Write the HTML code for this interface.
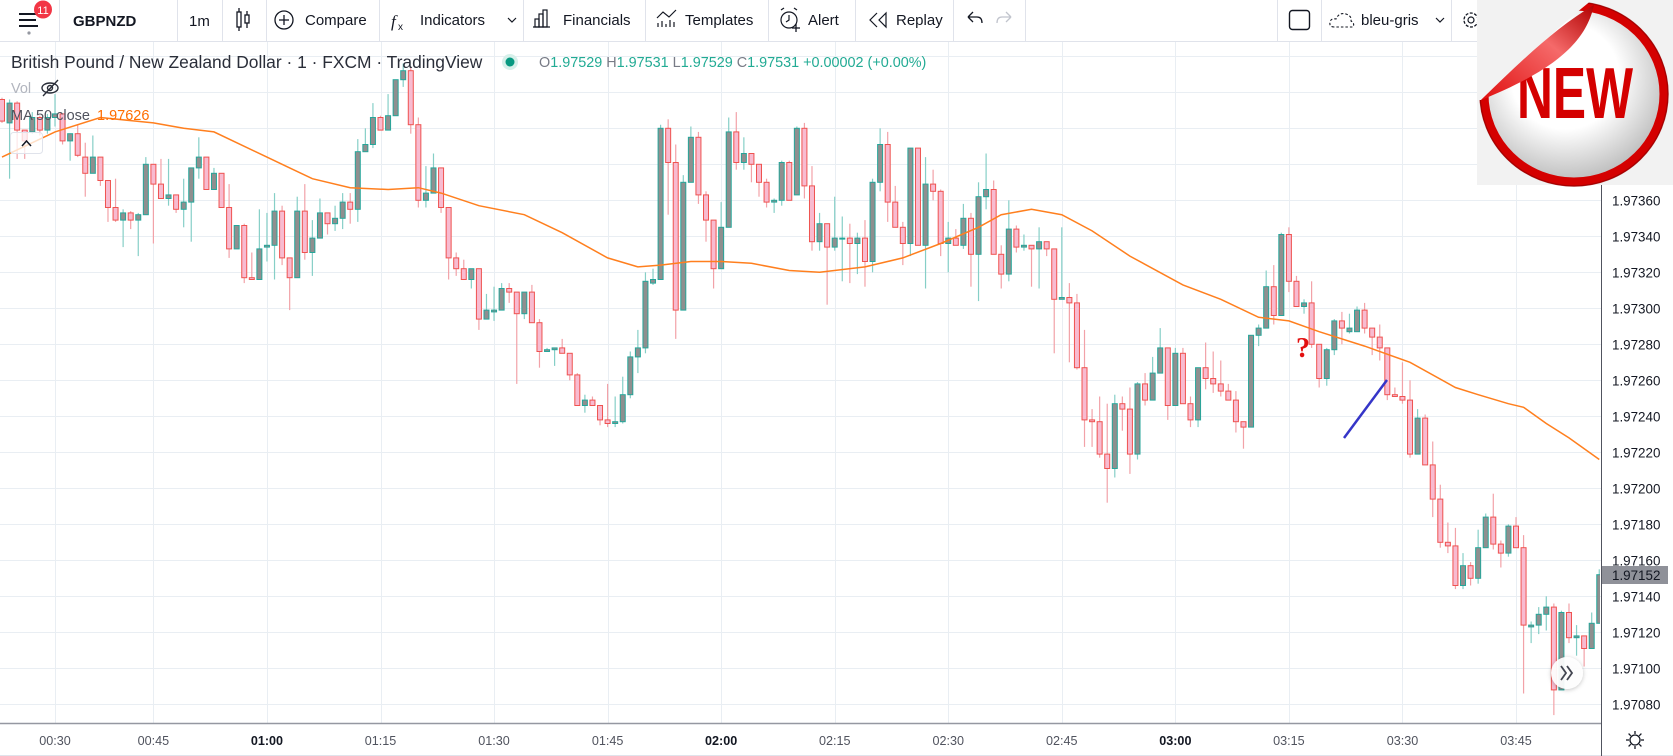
<!DOCTYPE html>
<html><head><meta charset="utf-8"><title>GBPNZD 1m chart</title>
<style>
html,body{margin:0;padding:0;background:#fff;overflow:hidden}
svg{display:block;font-family:"Liberation Sans",sans-serif}
</style></head>
<body>
<svg id="root" width="1673" height="756" viewBox="0 0 1673 756" xmlns="http://www.w3.org/2000/svg">
<defs>
<clipPath id="plotClip"><rect x="0" y="42" width="1600" height="681"/></clipPath>
<radialGradient id="stickerFill" cx="0.45" cy="0.4" r="0.6"><stop offset="0.5" stop-color="#ffffff"/><stop offset="1" stop-color="#bdbdbd"/></radialGradient>
<linearGradient id="foldFill" x1="0" y1="1" x2="1" y2="0"><stop offset="0" stop-color="#e01010"/><stop offset="0.6" stop-color="#f56a6a"/><stop offset="1" stop-color="#b00000"/></linearGradient>
<filter id="shadow" x="-50%" y="-50%" width="200%" height="200%"><feDropShadow dx="0" dy="1" stdDeviation="2" flood-color="#000" flood-opacity="0.25"/></filter>
</defs>
<rect x="0" y="0" width="1673" height="756" fill="#ffffff"/>
<g id="grid"></g>
<g id="plot" clip-path="url(#plotClip)">
  <g id="candles"></g>
  <path id="maLine" fill="none" stroke="#ff7f1e" stroke-width="1.5"/>
</g>

<text x="1296" y="357" font-family="'Liberation Serif',serif" font-weight="bold" font-size="28" fill="#e31010">?</text>
<line x1="1344" y1="438" x2="1387" y2="380" stroke="#3535c8" stroke-width="2.5"/>

<g>
<text x="11" y="68" font-size="17.4" fill="#2a2e39">British Pound / New Zealand Dollar · 1 · FXCM · TradingView</text>
<circle cx="510" cy="62" r="8" fill="#d6f0ea"/>
<circle cx="510" cy="62" r="4.5" fill="#089981"/>
<text x="539" y="67" font-size="14.4"><tspan fill="#787b86">O</tspan><tspan fill="#22ab94">1.97529 </tspan><tspan fill="#787b86">H</tspan><tspan fill="#22ab94">1.97531 </tspan><tspan fill="#787b86">L</tspan><tspan fill="#22ab94">1.97529 </tspan><tspan fill="#787b86">C</tspan><tspan fill="#22ab94">1.97531 +0.00002 (+0.00%)</tspan></text>
<text x="11" y="93" font-size="14.5" fill="#b2b5be">Vol</text>
<g stroke="#2a2e39" stroke-width="1.4" fill="none">
<ellipse cx="50" cy="88" rx="8" ry="5"/><circle cx="50" cy="88" r="2.5"/><line x1="43" y1="96" x2="58" y2="80"/></g>
<text x="11" y="120" font-size="14.5" fill="#50535e">MA 50 close</text>
<text x="97" y="120" font-size="14.5" fill="#ff6d00">1.97626</text>
<rect x="10.5" y="132.5" width="32" height="21" rx="3" fill="rgba(255,255,255,0.75)" stroke="#e0e3eb"/>
<polyline points="22,146 26.5,141 31,146" fill="none" stroke="#131722" stroke-width="1.5"/>
</g>

<g>
<circle cx="1567" cy="673" r="16" fill="#ffffff" fill-opacity="0.92" filter="url(#shadow)"/>
<polyline points="1561,666 1566,673 1561,680" fill="none" stroke="#434651" stroke-width="1.8"/>
<polyline points="1567,666 1572,673 1567,680" fill="none" stroke="#434651" stroke-width="1.8"/>
</g>

<rect x="1601" y="42" width="72" height="681" fill="#ffffff"/>
<g id="priceLabels"></g>
<rect x="1602" y="566" width="66" height="18" fill="#8f9199"/>
<text x="1612" y="580" font-size="13.4" fill="#131722">1.97152</text>
<rect x="0" y="723" width="1673" height="33" fill="#ffffff"/>
<line x1="0" y1="723.5" x2="1601" y2="723.5" stroke="#9598a1" stroke-width="1.5"/>
<line x1="0" y1="755.5" x2="1673" y2="755.5" stroke="#e0e3eb"/>
<line x1="1601.5" y1="42" x2="1601.5" y2="756" stroke="#50535e"/>
<g id="timeLabels"></g>
<g stroke="#131722" stroke-width="1.3" fill="none">
<circle cx="1635" cy="740" r="5"/>
<line x1="1635" y1="731" x2="1635" y2="734"/><line x1="1635" y1="746" x2="1635" y2="749"/>
<line x1="1626" y1="740" x2="1629" y2="740"/><line x1="1641" y1="740" x2="1644" y2="740"/>
<line x1="1628.6" y1="733.6" x2="1630.8" y2="735.8"/><line x1="1639.2" y1="744.2" x2="1641.4" y2="746.4"/>
<line x1="1641.4" y1="733.6" x2="1639.2" y2="735.8"/><line x1="1630.8" y1="744.2" x2="1628.6" y2="746.4"/>
</g>

<g>
<rect x="0" y="0" width="1673" height="41" fill="#ffffff"/>
<line x1="0" y1="41.5" x2="1673" y2="41.5" stroke="#e0e3eb"/>
<g stroke="#e0e3eb">
<line x1="59.5" y1="0" x2="59.5" y2="41"/><line x1="177.5" y1="0" x2="177.5" y2="41"/><line x1="222.5" y1="0" x2="222.5" y2="41"/>
<line x1="266.5" y1="0" x2="266.5" y2="41"/><line x1="379.5" y1="0" x2="379.5" y2="41"/><line x1="523.5" y1="0" x2="523.5" y2="41"/>
<line x1="645.5" y1="0" x2="645.5" y2="41"/><line x1="768.5" y1="0" x2="768.5" y2="41"/><line x1="855.5" y1="0" x2="855.5" y2="41"/>
<line x1="953.5" y1="0" x2="953.5" y2="41"/><line x1="1025.5" y1="0" x2="1025.5" y2="41"/><line x1="1277.5" y1="0" x2="1277.5" y2="41"/>
<line x1="1321.5" y1="0" x2="1321.5" y2="41"/><line x1="1451.5" y1="0" x2="1451.5" y2="41"/>
</g>
<g>
<g stroke="#131722" stroke-width="2"><line x1="19" y1="14" x2="38" y2="14"/><line x1="19" y1="20" x2="36" y2="20"/><line x1="19" y1="26" x2="38" y2="26"/></g>
<circle cx="29" cy="33" r="1.6" fill="#9598a1"/>
<circle cx="43" cy="9.5" r="9" fill="#f23645"/>
<text x="43" y="14" font-size="11" fill="#fff" text-anchor="middle">11</text>
</g>
<text x="73" y="26" font-size="15" font-weight="bold" fill="#131722">GBPNZD</text>
<text x="189" y="26" font-size="15" fill="#131722">1m</text>
<g stroke="#131722" stroke-width="1.3" fill="none">
<rect x="237" y="12" width="4" height="15"/><line x1="239" y1="8" x2="239" y2="12"/><line x1="239" y1="27" x2="239" y2="31"/>
<rect x="245" y="15" width="4" height="8"/><line x1="247" y1="11" x2="247" y2="15"/><line x1="247" y1="23" x2="247" y2="28"/>
</g>
<g>
<circle cx="284" cy="20" r="9" fill="none" stroke="#131722" stroke-width="1.3"/>
<line x1="284" y1="15" x2="284" y2="25" stroke="#131722" stroke-width="1.3"/><line x1="279" y1="20" x2="289" y2="20" stroke="#131722" stroke-width="1.3"/>
<text x="305" y="25" font-size="15" fill="#131722">Compare</text></g>
<g>
<text x="391" y="27" font-size="17" font-style="italic" font-family="'Liberation Serif',serif" fill="#131722">f</text>
<text x="398" y="30" font-size="10" fill="#131722">x</text>
<text x="420" y="25" font-size="15" fill="#131722">Indicators</text>
<polyline points="508,18 512,22 516,18" fill="none" stroke="#131722" stroke-width="1.2"/></g>
<g>
<g fill="none" stroke="#131722" stroke-width="1.2"><rect x="535" y="19" width="4" height="8"/><rect x="539" y="14" width="4" height="13"/><rect x="543" y="10" width="4" height="17"/><line x1="533" y1="27" x2="550" y2="27"/></g>
<text x="563" y="25" font-size="15" fill="#131722">Financials</text></g>
<g>
<polyline points="657,18 663,12 669,17 676,10" fill="none" stroke="#131722" stroke-width="1.2"/>
<g stroke="#131722" stroke-width="1.2"><line x1="658" y1="27" x2="658" y2="23"/><line x1="662" y1="27" x2="662" y2="21"/><line x1="666" y1="27" x2="666" y2="24"/><line x1="670" y1="27" x2="670" y2="20"/><line x1="674" y1="27" x2="674" y2="22"/></g>
<text x="685" y="25" font-size="15" fill="#131722">Templates</text></g>
<g>
<circle cx="789" cy="20" r="8" fill="none" stroke="#131722" stroke-width="1.2"/>
<polyline points="789,15 789,20 786,22" fill="none" stroke="#131722" stroke-width="1.2"/>
<line x1="781" y1="10" x2="784" y2="8" stroke="#131722" stroke-width="1.2"/><line x1="797" y1="10" x2="794" y2="8" stroke="#131722" stroke-width="1.2"/>
<line x1="796" y1="24" x2="796" y2="32" stroke="#131722" stroke-width="1.3"/><line x1="792" y1="28" x2="800" y2="28" stroke="#131722" stroke-width="1.3"/>
<text x="808" y="25" font-size="15" fill="#131722">Alert</text></g>
<g>
<polyline points="877,13 870,20 877,27" fill="none" stroke="#131722" stroke-width="1.2"/>
<polygon points="886,13 879,20 886,27" fill="none" stroke="#131722" stroke-width="1.2"/>
<text x="896" y="25" font-size="15" fill="#131722">Replay</text></g>
<g><path d="M968,17 L973,12 M968,17 L973,22 M968,17 L977,17 Q982,17 982,23" fill="none" stroke="#131722" stroke-width="1.3"/></g>
<g><path d="M1011,17 L1006,12 M1011,17 L1006,22 M1011,17 L1002,17 Q997,17 997,23" fill="none" stroke="#c1c4cd" stroke-width="1.3"/></g>
<rect x="1289.5" y="10.5" width="20" height="19" rx="3" fill="none" stroke="#131722" stroke-width="1.4"/>
<g>
<path d="M1334,27 Q1329,27 1330,22 Q1331,18 1336,19 Q1339,12 1346,14 Q1352,16 1351,21 Q1355,23 1353,27 Z" fill="none" stroke="#131722" stroke-width="1.1" stroke-dasharray="2.5,2"/>
<text x="1361" y="25" font-size="15" fill="#131722">bleu-gris</text>
<polyline points="1436,18 1440,22 1444,18" fill="none" stroke="#131722" stroke-width="1.2"/></g>
<g><circle cx="1471" cy="20" r="7" fill="none" stroke="#131722" stroke-width="1.3" stroke-dasharray="3,1.5"/><circle cx="1471" cy="20" r="3" fill="none" stroke="#131722" stroke-width="1.2"/></g>
</g>

<g>
<rect x="1477" y="0" width="196" height="185" fill="#f2f2f2"/>
<ellipse cx="1574" cy="94" rx="90" ry="88" fill="url(#stickerFill)" stroke="#d40000" stroke-width="9"/>
<ellipse cx="1574" cy="94" rx="94" ry="92" fill="none" stroke="#8a0000" stroke-width="1.5" opacity="0.6"/>
<text x="1517" y="118" font-size="72" font-weight="bold" fill="#d40000" textLength="116" lengthAdjust="spacingAndGlyphs">NEW</text>
<path d="M1477,0 L1592,0 Q1560,25 1481,100 L1477,100 Z" fill="#f2f2f2"/>
<path d="M1481,100 C1520,62 1555,28 1594,5 C1586,42 1555,70 1481,100 Z" fill="url(#foldFill)"/>
</g>

<script>
const open = [1.97416,1.97403,1.97414,1.97399,1.97398,1.97406,1.97399,1.97406,1.97408,1.97393,
1.97397,1.97384,1.97375,1.97384,1.97371,1.97356,1.97349,1.97353,1.97349,1.97352,
1.97380,1.97369,1.97361,1.97363,1.97355,1.97359,1.97378,1.97384,1.97366,1.97375,
1.97356,1.97333,1.97346,1.97317,1.97316,1.97334,1.97335,1.97354,1.97328,1.97317,
1.97354,1.97331,1.97339,1.97353,1.97347,1.97350,1.97359,1.97355,1.97387,1.97391,
1.97406,1.97399,1.97407,1.97427,1.97432,1.97402,1.97360,1.97364,1.97378,1.97356,
1.97328,1.97322,1.97316,1.97322,1.97294,1.97298,1.97299,1.97311,1.97309,1.97297,
1.97309,1.97292,1.97276,1.97277,1.97278,1.97275,1.97263,1.97246,1.97249,1.97246,
1.97238,1.97236,1.97237,1.97252,1.97273,1.97278,1.97314,1.97316,1.97400,1.97381,
1.97299,1.97370,1.97395,1.97363,1.97349,1.97322,1.97345,1.97398,1.97381,1.97386,
1.97380,1.97370,1.97359,1.97360,1.97381,1.97363,1.97400,1.97368,1.97337,1.97347,
1.97334,1.97339,1.97339,1.97336,1.97339,1.97326,1.97370,1.97391,1.97359,1.97345,
1.97336,1.97389,1.97335,1.97369,1.97365,1.97336,1.97339,1.97335,1.97350,1.97330,
1.97362,1.97366,1.97330,1.97319,1.97344,1.97334,1.97335,1.97333,1.97337,1.97333,
1.97305,1.97306,1.97303,1.97267,1.97238,1.97237,1.97219,1.97211,1.97247,1.97244,
1.97219,1.97258,1.97249,1.97264,1.97278,1.97246,1.97275,1.97247,1.97238,1.97267,
1.97261,1.97258,1.97254,1.97249,1.97237,1.97234,1.97285,1.97289,1.97312,1.97296,
1.97341,1.97315,1.97301,1.97303,1.97280,1.97261,1.97277,1.97293,1.97287,1.97287,
1.97299,1.97289,1.97284,1.97278,1.97252,1.97251,1.97249,1.97219,1.97239,1.97213,
1.97194,1.97170,1.97168,1.97146,1.97157,1.97150,1.97167,1.97184,1.97169,1.97164,
1.97179,1.97167,1.97123,1.97124,1.97130,1.97134,1.97088,1.97131,1.97117,1.97118,
1.97111,1.97125];
const high = [1.97417,1.97416,1.97415,1.97399,1.97409,1.97407,1.97408,1.97419,1.97408,1.97397,
1.97402,1.97392,1.97396,1.97384,1.97371,1.97372,1.97355,1.97354,1.97353,1.97384,
1.97380,1.97383,1.97383,1.97363,1.97372,1.97378,1.97395,1.97384,1.97378,1.97375,
1.97369,1.97346,1.97347,1.97331,1.97355,1.97353,1.97364,1.97357,1.97328,1.97362,
1.97369,1.97349,1.97361,1.97353,1.97357,1.97364,1.97364,1.97394,1.97400,1.97414,
1.97407,1.97419,1.97427,1.97436,1.97434,1.97406,1.97379,1.97386,1.97378,1.97356,
1.97331,1.97327,1.97322,1.97322,1.97308,1.97312,1.97314,1.97314,1.97309,1.97309,
1.97313,1.97294,1.97278,1.97278,1.97283,1.97275,1.97264,1.97252,1.97251,1.97246,
1.97258,1.97251,1.97262,1.97276,1.97288,1.97320,1.97322,1.97402,1.97405,1.97391,
1.97374,1.97401,1.97398,1.97365,1.97349,1.97359,1.97406,1.97409,1.97395,1.97386,
1.97380,1.97372,1.97361,1.97382,1.97382,1.97401,1.97403,1.97379,1.97353,1.97347,
1.97362,1.97351,1.97347,1.97342,1.97349,1.97372,1.97400,1.97398,1.97368,1.97348,
1.97389,1.97389,1.97384,1.97377,1.97366,1.97348,1.97344,1.97358,1.97353,1.97370,
1.97386,1.97371,1.97335,1.97360,1.97346,1.97341,1.97335,1.97345,1.97337,1.97333,
1.97345,1.97314,1.97308,1.97288,1.97244,1.97251,1.97247,1.97252,1.97251,1.97256,
1.97259,1.97264,1.97273,1.97289,1.97278,1.97278,1.97278,1.97251,1.97267,1.97281,
1.97276,1.97271,1.97258,1.97254,1.97237,1.97285,1.97291,1.97321,1.97324,1.97342,
1.97345,1.97318,1.97305,1.97315,1.97280,1.97278,1.97294,1.97298,1.97297,1.97301,
1.97303,1.97289,1.97291,1.97278,1.97256,1.97270,1.97260,1.97244,1.97241,1.97226,
1.97202,1.97181,1.97178,1.97164,1.97159,1.97177,1.97186,1.97197,1.97171,1.97180,
1.97184,1.97174,1.97126,1.97134,1.97140,1.97136,1.97132,1.97136,1.97124,1.97118,
1.97131,1.97155];
const low = [1.97403,1.97372,1.97383,1.97383,1.97397,1.97396,1.97397,1.97401,1.97391,1.97382,
1.97384,1.97362,1.97375,1.97368,1.97348,1.97348,1.97334,1.97344,1.97329,1.97352,
1.97336,1.97361,1.97357,1.97353,1.97345,1.97337,1.97372,1.97366,1.97366,1.97356,
1.97328,1.97333,1.97314,1.97316,1.97316,1.97326,1.97316,1.97324,1.97299,1.97317,
1.97327,1.97318,1.97339,1.97341,1.97343,1.97344,1.97347,1.97348,1.97387,1.97389,
1.97399,1.97399,1.97407,1.97423,1.97397,1.97356,1.97356,1.97364,1.97353,1.97316,
1.97318,1.97316,1.97311,1.97288,1.97294,1.97293,1.97299,1.97303,1.97258,1.97294,
1.97292,1.97267,1.97276,1.97268,1.97275,1.97260,1.97246,1.97242,1.97246,1.97235,
1.97234,1.97234,1.97236,1.97250,1.97264,1.97275,1.97313,1.97316,1.97352,1.97283,
1.97299,1.97370,1.97358,1.97337,1.97311,1.97322,1.97345,1.97377,1.97377,1.97370,
1.97362,1.97356,1.97353,1.97357,1.97360,1.97363,1.97361,1.97332,1.97332,1.97302,
1.97332,1.97315,1.97314,1.97319,1.97312,1.97320,1.97365,1.97348,1.97345,1.97324,
1.97329,1.97335,1.97311,1.97360,1.97329,1.97320,1.97335,1.97333,1.97312,1.97304,
1.97355,1.97330,1.97311,1.97315,1.97331,1.97332,1.97312,1.97311,1.97329,1.97275,
1.97305,1.97270,1.97266,1.97223,1.97223,1.97217,1.97192,1.97206,1.97232,1.97208,
1.97216,1.97246,1.97249,1.97264,1.97238,1.97246,1.97247,1.97234,1.97234,1.97255,
1.97253,1.97251,1.97249,1.97231,1.97222,1.97234,1.97279,1.97289,1.97291,1.97296,
1.97309,1.97301,1.97297,1.97278,1.97256,1.97257,1.97274,1.97280,1.97286,1.97287,
1.97286,1.97274,1.97271,1.97249,1.97251,1.97247,1.97217,1.97219,1.97213,1.97184,
1.97167,1.97164,1.97144,1.97144,1.97146,1.97147,1.97167,1.97166,1.97156,1.97162,
1.97167,1.97086,1.97114,1.97119,1.97121,1.97074,1.97088,1.97114,1.97107,1.97101,
1.97111,1.97125];
const close = [1.97404,1.97414,1.97399,1.97393,1.97406,1.97399,1.97406,1.97408,1.97393,1.97397,
1.97385,1.97375,1.97384,1.97371,1.97356,1.97349,1.97353,1.97349,1.97352,1.97380,
1.97369,1.97361,1.97363,1.97355,1.97359,1.97378,1.97384,1.97366,1.97375,1.97356,
1.97333,1.97346,1.97317,1.97316,1.97333,1.97335,1.97354,1.97328,1.97317,1.97354,
1.97331,1.97339,1.97353,1.97347,1.97350,1.97359,1.97355,1.97387,1.97391,1.97406,
1.97399,1.97407,1.97427,1.97432,1.97402,1.97360,1.97364,1.97378,1.97356,1.97328,
1.97322,1.97316,1.97322,1.97294,1.97299,1.97299,1.97311,1.97309,1.97297,1.97309,
1.97292,1.97276,1.97277,1.97278,1.97275,1.97263,1.97246,1.97249,1.97246,1.97238,
1.97236,1.97237,1.97252,1.97273,1.97278,1.97315,1.97316,1.97400,1.97381,1.97299,
1.97370,1.97395,1.97363,1.97349,1.97322,1.97345,1.97398,1.97381,1.97386,1.97380,
1.97370,1.97359,1.97360,1.97381,1.97360,1.97400,1.97368,1.97337,1.97347,1.97334,
1.97339,1.97339,1.97336,1.97339,1.97326,1.97370,1.97391,1.97359,1.97345,1.97336,
1.97389,1.97335,1.97369,1.97365,1.97336,1.97339,1.97335,1.97350,1.97330,1.97362,
1.97366,1.97330,1.97319,1.97344,1.97334,1.97335,1.97333,1.97337,1.97333,1.97305,
1.97306,1.97303,1.97267,1.97238,1.97237,1.97219,1.97211,1.97247,1.97244,1.97219,
1.97258,1.97249,1.97264,1.97278,1.97246,1.97275,1.97247,1.97238,1.97267,1.97261,
1.97258,1.97254,1.97249,1.97237,1.97234,1.97285,1.97289,1.97312,1.97296,1.97341,
1.97315,1.97301,1.97303,1.97280,1.97261,1.97277,1.97293,1.97289,1.97289,1.97299,
1.97289,1.97284,1.97278,1.97252,1.97251,1.97249,1.97219,1.97239,1.97213,1.97194,
1.97170,1.97168,1.97146,1.97157,1.97150,1.97167,1.97184,1.97169,1.97164,1.97179,
1.97167,1.97124,1.97124,1.97130,1.97134,1.97088,1.97131,1.97117,1.97118,1.97111,
1.97125,1.97152];
const maIdx = [0,7,13,20,24,28,35,38,41,46,51,55,58,63,69,74,80,84,87,91,95,99,104,108,114,119,124,129,132,136,140,144,149,156,161,166,170,174,180,186,192,195,199,201,204,207,211];
const maVal = [1.97384,1.97398,1.97406,1.97403,1.97400,1.97398,1.97384,1.97378,1.97372,1.97367,1.97366,1.97367,1.97364,1.97357,1.97352,1.97342,1.97328,1.97323,1.97324,1.97326,1.97326,1.97325,1.97321,1.97320,1.97323,1.97328,1.97336,1.97345,1.97352,1.97355,1.97352,1.97343,1.97329,1.97313,1.97305,1.97295,1.97293,1.97287,1.97279,1.97270,1.97256,1.97252,1.97247,1.97245,1.97236,1.97228,1.97216];
const timeTickLabels = ['00:30','00:45','01:00','01:15','01:30','01:45','02:00','02:15','02:30','02:45','03:00','03:15','03:30','03:45'];
const timeTickIdx = [7,20,35,50,65,80,95,110,125,140,155,170,185,200];
const timeTickBold = [false,false,true,false,false,false,true,false,false,false,true,false,false,false];
const priceTicks = [1.97080,1.97100,1.97120,1.97140,1.97160,1.97180,1.97200,1.97220,1.97240,1.97260,1.97280,1.97300,1.97320,1.97340,1.97360];
const gridPrices = [1.97060,1.97080,1.97100,1.97120,1.97140,1.97160,1.97180,1.97200,1.97220,1.97240,1.97260,1.97280,1.97300,1.97320,1.97340,1.97360,1.97380,1.97400,1.97420,1.97440,1.97460,1.97480,1.97500];

const NS = 'http://www.w3.org/2000/svg';
function xScale(i){ return 2 + i * 7.57; }
function yScale(p){ return 200.3 + (1.97360 - p) * 180000; }
function mk(tag, attrs, parent){ const e = document.createElementNS(NS, tag); for (const k in attrs) e.setAttribute(k, attrs[k]); parent.appendChild(e); return e; }

const grid = document.getElementById('grid');
gridPrices.forEach(function(p){
  const y = Math.round(yScale(p)) + 0.5;
  if (y < 42 || y > 723) return;
  const ln = mk('line', {x1:0, x2:1601, y1:y, y2:y, stroke:'#e9eef3', 'stroke-width':1}, grid);
  
  
});
timeTickIdx.forEach(function(idx){
  const x = Math.round(xScale(idx)) + 0.5;
  const ln = mk('line', {x1:x, x2:x, y1:42, y2:723, stroke:'#e9eef3', 'stroke-width':1}, grid);
  
  
});

const cg = document.getElementById('candles');
for (let i = 0; i < open.length; i++) {
  const x = xScale(i);
  const bull = close[i] >= open[i];
  const g = mk('g', {}, cg);
  
  
  mk('line', {x1:x, x2:x, y1:yScale(high[i]), y2:yScale(low[i]), stroke: bull ? '#86cfc7' : '#f2a2a8', 'stroke-width':1.2}, g);
  const top = yScale(Math.max(open[i], close[i]));
  const bot = yScale(Math.min(open[i], close[i]));
  mk('rect', {x:x-2.5, y:top, width:5, height:Math.max(1, bot-top), fill: bull ? '#8f8f8f' : '#f8bbd0', stroke: bull ? '#26a69a' : '#ef5350', 'stroke-width':1}, g);
}

let d = '';
maIdx.forEach(function(idx, k){ d += (k ? ' L' : 'M') + xScale(idx).toFixed(1) + ',' + yScale(maVal[k]).toFixed(1); });
document.getElementById('maLine').setAttribute('d', d);

const pl = document.getElementById('priceLabels');
priceTicks.forEach(function(p){
  const t = mk('text', {x:1612, y:yScale(p)+5, 'font-size':13.4, fill:'#131722'}, pl);
  
  
  t.textContent = p.toFixed(5);
});
const tl = document.getElementById('timeLabels');
timeTickLabels.forEach(function(lbl, k){
  const t = mk('text', {x:xScale(timeTickIdx[k]), y:745, 'font-size':12.6, 'text-anchor':'middle', fill: timeTickBold[k] ? '#131722' : '#50535e', 'font-weight': timeTickBold[k] ? 'bold' : 'normal'}, tl);
  
  
  t.textContent = lbl;
});
</script>
</svg>
</body></html>
